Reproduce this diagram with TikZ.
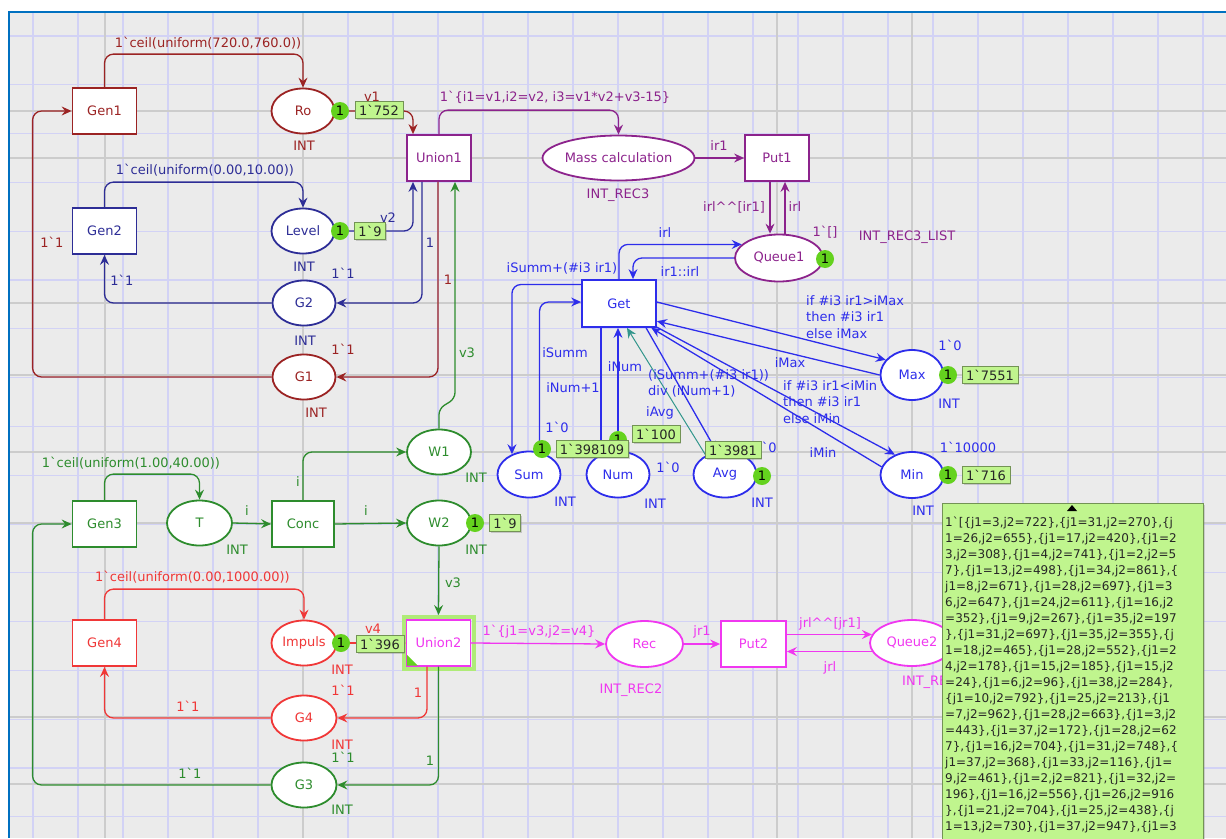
\documentclass[tikz,border=0pt]{standalone}
\usepackage{fontspec}
\newfontfamily\cpn{DejaVu Sans}
\usetikzlibrary{arrows.meta,shapes.geometric,shadows,calc}
\definecolor{cdred}{RGB}{155,35,35}
\definecolor{cdblue}{RGB}{45,45,150}
\definecolor{cpurp}{RGB}{140,35,140}
\definecolor{cblue}{RGB}{45,45,235}
\definecolor{cgreen}{RGB}{45,140,45}
\definecolor{cred}{RGB}{240,55,55}
\definecolor{cmag}{RGB}{240,55,240}
\definecolor{cteal}{RGB}{50,150,140}
\definecolor{tokg}{RGB}{100,210,30}
\definecolor{boxg}{RGB}{192,245,142}
\definecolor{glowg}{RGB}{175,235,120}
\definecolor{bgg}{RGB}{235,235,235}
\definecolor{gridb}{RGB}{210,210,245}
\definecolor{gridg}{RGB}{204,204,204}
\definecolor{framec}{RGB}{0,112,192}
\begin{document}
\begin{tikzpicture}[x=1pt,y=-1pt,
  font={\cpn\fontsize{13}{16.5}\selectfont},
  cpntrans/.style={draw=#1, text=#1, line width=1.8pt, fill=white, minimum width=64pt, minimum height=46pt, inner sep=0pt},
  cpnplace/.style={draw=#1, text=#1, ellipse, line width=1.8pt, fill=white, minimum width=63pt, minimum height=45pt, inner sep=0pt},
  cpnarc/.style={draw=#1, line width=1.3pt, rounded corners=9pt, -{Stealth[length=10pt,width=9pt,inset=3.5pt]}},
  txt/.style={text=#1, inner sep=0pt},
  tok/.style={circle, fill=tokg, text=black, inner sep=0pt, minimum size=18pt},
  mk/.style={fill=boxg, draw=boxg!60!black, line width=0.5pt, text=black!85, inner xsep=4pt, inner ysep=3pt, drop shadow={shadow xshift=1.5pt, shadow yshift=-1.5pt, opacity=0.35}},
]
\useasboundingbox (0,0) rectangle (1226,838);
% background, grid, frame
\fill[white] (0,0) rectangle (1226,838);
\fill[bgg] (9,12) rectangle (1226,838);
\foreach \gx in {33,78,...,1203} \draw[gridb, line width=1.1pt] (\gx,12) -- (\gx,838);
\foreach \k in {0,...,16} \draw[gridb, line width=1.1pt] (9,{36+48.8*\k}) -- (1226,{36+48.8*\k});
\foreach \gx in {105,303,777,912} \draw[gridg, line width=1.1pt] (\gx,12) -- (\gx,838);
\foreach \gy in {111,158,303,375,452,523,717,784} \draw[gridg, line width=1.1pt] (9,\gy) -- (1226,\gy);
\draw[framec, line width=2.4pt] (1226,12) -- (9,12) -- (9,838);

% transitions
\node[cpntrans=cdred] (gen1) at (104.5,111) {Gen1};
\node[cpntrans=cdblue] (gen2) at (104.5,231) {Gen2};
\node[cpntrans=cgreen] (gen3) at (104.5,524) {Gen3};
\node[cpntrans=cred] (gen4) at (104.5,643) {Gen4};
\node[cpntrans=cpurp] (union1) at (439,158) {Union1};
\node[cpntrans=cpurp] (put1) at (777,158) {Put1};
\node[cpntrans=cblue, minimum width=74pt, minimum height=47pt] (get) at (619,303.5) {Get};
\node[cpntrans=cgreen, minimum width=62pt] (conc) at (303,524) {Conc};
\node[draw=glowg, line width=4pt, minimum width=70pt, minimum height=52pt, inner sep=0pt] (u2glow) at (438.5,643) {};
\node[cpntrans=cmag, line width=1.4pt] (union2) at (438.5,643) {Union2};
\fill[tokg] ([shift={(1pt,1pt)}]union2.south west) -- ++(11pt,0pt) -- ++(-11pt,11pt) -- cycle;
\node[cpntrans=cmag, minimum width=65pt] (put2) at (753.5,644) {Put2};

% places
\node[cpnplace=cdred] (ro) at (303,111) {Ro};
\node[cpnplace=cdblue] (level) at (303,231) {Level};
\node[cpnplace=cdblue] (g2) at (304,303) {G2};
\node[cpnplace=cdred] (g1) at (304,377) {G1};
\node[cpnplace=cpurp, minimum width=149pt] (mass) at (618.5,158) {Mass calculation};
\node[cpnplace=cpurp, minimum width=88pt, minimum height=47pt] (queue1) at (779,258) {Queue1};
\node[cpnplace=cblue, minimum height=46pt] (sum) at (529,474.5) {Sum};
\node[cpnplace=cblue, minimum height=46pt] (num) at (618,474.5) {Num};
\node[cpnplace=cblue, minimum height=46pt] (avg) at (725,474.5) {Avg};
\node[cpnplace=cblue, minimum height=50pt] (max) at (912,375) {Max};
\node[cpnplace=cblue, minimum height=46pt] (min) at (912,475) {Min};
\node[cpnplace=cgreen, minimum width=65pt] (t) at (199.5,523) {T};
\node[cpnplace=cgreen, minimum width=64pt] (w1) at (439,452) {W1};
\node[cpnplace=cgreen, minimum width=64pt] (w2) at (439,523) {W2};
\node[cpnplace=cred, minimum width=65pt] (impuls) at (304,643) {Impuls};
\node[cpnplace=cred, minimum width=65pt] (g4) at (304,718) {G4};
\node[cpnplace=cgreen, minimum width=65pt] (g3) at (304,785) {G3};
\node[cpnplace=cmag, minimum width=77pt, minimum height=46pt] (rec) at (644.5,644) {Rec};
\node[cpnplace=cmag, minimum width=84pt, minimum height=46pt] (queue2) at (912,643) {Queue2};

% arcs: top part
\draw[cpnarc=cdred] (gen1.north) -- ++(0,-33) -| (ro.north);
\draw[cpnarc=cdblue] (gen2.north) -- ++(0,-25) -| (level.north);
\draw[cpnarc=cdred] (ro.east) -| ([xshift=-26pt]union1.north);
\draw[cpnarc=cdblue] (level.east) -| ([xshift=-26pt]union1.south);
\draw[cpnarc=cdblue] ([xshift=-17pt]union1.south) |- (g2.east);
\draw[cpnarc=cdred] ([xshift=-1pt]union1.south) |- (g1.east);
\draw[cpnarc=cdblue] (g2.west) -| (gen2.south);
\draw[cpnarc=cdred] (g1.west) -| ([xshift=-39pt]gen1.west) -- (gen1.west);
\draw[cpnarc=cgreen, rounded corners=6pt] (w1.north) -- ++(0,-20) -- ++(16,-10) -- ([xshift=16pt]union1.south);
\draw[cpnarc=cpurp] (union1.north) -- ++(0,-24) -| (mass.north);
\draw[cpnarc=cpurp] (mass.east) -- (put1.west);
\draw[cpnarc=cpurp] ([xshift=-7pt]put1.south) -- ([xshift=-9pt]queue1.north);
\draw[cpnarc=cpurp] ([xshift=6pt]queue1.north) -- ([xshift=8pt]put1.south);
% Get arcs
\draw[cpnarc=cblue] (get.north) |- (queue1.160);
\draw[cpnarc=cblue] (queue1.west) -| ([xshift=14pt]get.north);
\draw[cpnarc=cblue] ([yshift=19pt]get.west) -| (sum.130);
\draw[cpnarc=cblue] (sum.65) |- ([yshift=1.5pt]get.west);
\draw[cpnarc=cblue] (num.130 |- get.south) -- (num.130);
\draw[cpnarc=cblue] (num.north) -- (num.north |- get.south);
\draw[cpnarc=cteal, line width=1pt] (avg.135) -- ([xshift=8pt]get.south);
\draw[cpnarc=cblue] (get.-42) -- (avg.110);
\draw[cpnarc=cblue] ([yshift=1.5pt]get.east) -- (max.150);
\draw[cpnarc=cblue] (max.west) -- (get.-25);
\draw[cpnarc=cblue] (get.-32) -- (min.130);
\draw[cpnarc=cblue] (min.165) -- (get.-37);
% arcs: bottom part
\draw[cpnarc=cgreen] (gen3.north) -- ++(0,-26) -| (t.north);
\draw[cpnarc=cgreen] (t.east) -- (conc.west);
\draw[cpnarc=cgreen] (conc.north) |- (w1.west);
\draw[cpnarc=cgreen] (conc.east) -- (w2.west);
\draw[cpnarc=cgreen] (w2.south) -- (u2glow.north);
\draw[cpnarc=cred] (gen4.north) -- ++(0,-30) -| (impuls.north);
\draw[cpnarc=cred] (impuls.east) -- (union2.west);
\draw[cpnarc=cred] ([xshift=-11.5pt]union2.south) |- (g4.east);
\draw[cpnarc=cgreen] (union2.south) |- (g3.east);
\draw[cpnarc=cred] (g4.west) -| (gen4.south);
\draw[cpnarc=cgreen] (g3.west) -| ([xshift=-39pt]gen3.west) -- (gen3.west);
\draw[cpnarc=cmag] (union2.east) -- (rec.west);
\draw[cpnarc=cmag] (rec.east) -- (put2.west);
\draw[cpnarc=cmag] (queue2.168 -| put2.east) -- (queue2.168);
\draw[cpnarc=cmag] (queue2.192) -- (queue2.192 -| put2.east);

% labels top
\node[txt=cdred] (l1) at (208,43) {1`ceil(uniform(720.0,760.0))};
\node[txt=cdblue] (l2) at (205,170) {1`ceil(uniform(0.00,10.00))};
\node[txt=cdred] (l3) at (372,97) {v1};
\node[txt=cdblue] (l4) at (388,218) {v2};
\node[txt=cdred] (l5) at (304,146) {INT};
\node[txt=cdblue] (l6) at (304,267) {INT};
\node[txt=cdblue] (l7) at (343,273) {1`1};
\node[txt=cdblue] (l8) at (430,243) {1};
\node[txt=cdblue] (l9) at (122,280) {1`1};
\node[txt=cdblue] (l10) at (305,341) {INT};
\node[txt=cdred] (l11) at (343,349) {1`1};
\node[txt=cdred] (l12) at (448,280) {1};
\node[txt=cdred] (l13) at (52,242) {1`1};
\node[txt=cdred] (l14) at (316,413) {INT};
\node[txt=cgreen] (l15) at (467,353) {v3};
\node[txt=cpurp] (l16) at (555,97) {1`\{i1=v1,i2=v2, i3=v1*v2+v3-15\}};
\node[txt=cpurp] (l17) at (618,195) {INT\_REC3};
\node[txt=cpurp] (l18) at (719,146) {ir1};
\node[txt=cpurp] (l19) at (734,207) {irl\textasciicircum\textasciicircum[ir1]};
\node[txt=cpurp] (l20) at (795,207) {irl};
\node[txt=cpurp] (l21) at (825,232) {1`[]};
\node[txt=cpurp] (l22) at (907,237) {INT\_REC3\_LIST};
\node[txt=cblue] (l23) at (665,233) {irl};
\node[txt=cblue] (l24) at (680,272) {ir1::irl};
\node[txt=cblue] (l25) at (562,268) {iSumm+(\#i3 ir1)};
\node[txt=cblue] (l26) at (565,353) {iSumm};
\node[txt=cblue] (l27) at (573,388) {iNum+1};
\node[txt=cblue] (l28) at (625,367) {iNum};
\node[txt=cblue] (l29) at (660,413) {iAvg};
\node[txt=cblue, anchor=west, align=left] (l30) at (648,383.5) {(iSumm+(\#i3 ir1))\\div (iNum+1)};
\node[txt=cblue, anchor=west, align=left] (l31) at (806,317) {if \#i3 ir1>iMax\\then \#i3 ir1\\else iMax};
\node[txt=cblue] (l32) at (790,363) {iMax};
\node[txt=cblue, anchor=west, align=left] (l33) at (783,402) {if \#i3 ir1<iMin\\then \#i3 ir1\\else iMin};
\node[txt=cblue] (l34) at (823,453) {iMin};
\node[txt=cblue] (l35) at (557,427) {1`0};
\node[txt=cblue] (l36) at (668,467) {1`0};
\node[txt=cblue] (l37) at (765,447) {1`0};
\node[txt=cblue] (l38) at (950,345) {1`0};
\node[txt=cblue] (l39) at (949,404) {INT};
\node[txt=cblue] (l40) at (968,447) {1`10000};
\node[txt=cblue] (l41) at (923,511) {INT};
\node[txt=cblue] (l42) at (565,502) {INT};
\node[txt=cblue] (l43) at (655,504) {INT};
\node[txt=cblue] (l44) at (762,503) {INT};
% labels bottom
\node[txt=cgreen] (l45) at (131,463) {1`ceil(uniform(1.00,40.00))};
\node[txt=cgreen] (l46) at (237,550) {INT};
\node[txt=cgreen] (l47) at (247,511) {i};
\node[txt=cgreen] (l48) at (298,482) {i};
\node[txt=cgreen] (l49) at (366,511) {i};
\node[txt=cgreen] (l50) at (476,478) {INT};
\node[txt=cgreen] (l51) at (476,550) {INT};
\node[txt=cgreen] (l52) at (453,583) {v3};
\node[txt=cred] (l53) at (192.5,577) {1`ceil(uniform(0.00,1000.00))};
\node[txt=cred] (l54) at (373,629) {v4};
\node[txt=cred] (l55) at (342,670) {INT};
\node[txt=cred] (l56) at (343,690) {1`1};
\node[txt=cred] (l57) at (418,693) {1};
\node[txt=cred] (l58) at (188,706) {1`1};
\node[txt=cred] (l59) at (342,745) {INT};
\node[txt=cgreen] (l60) at (343,757) {1`1};
\node[txt=cgreen] (l61) at (430,761) {1};
\node[txt=cgreen] (l62) at (190,773) {1`1};
\node[txt=cgreen] (l63) at (342,810) {INT};
\node[txt=cmag] (l64) at (539,632) {1`\{j1=v3,j2=v4\}};
\node[txt=cmag] (l65) at (702,632) {jr1};
\node[txt=cmag] (l66) at (631,690) {INT\_REC2};
\node[txt=cmag] (l67) at (830,624) {jrl\textasciicircum\textasciicircum[jr1]};
\node[txt=cmag] (l68) at (830,668) {jrl};
\begin{scope}
\clip (9,12) rectangle (942,838);
\node[txt=cmag, anchor=west] (l69) at (902,682) {INT\_REC2\_LIST};
\end{scope}

% tokens and markings
\node[tok] (tro) at (340,111) {1};
\node[mk] (mro) at (379,110) {1`752};
\node[tok] (tlevel) at (340,231) {1};
\node[mk] (mlevel) at (370,231) {1`9};
\node[tok] (tq1) at (825,259) {1};
\node[tok] (tnum) at (618,440) {1};
\node[tok] (tsum) at (542,449) {1};
\node[mk] (msum) at (592,449) {1`398109};
\node[mk] (mnum) at (656,434) {1`100};
\node[mk] (mavg) at (733,450) {1`3981};
\node[tok] (tavg) at (762,476) {1};
\node[tok] (tmax) at (948,375) {1};
\node[mk] (mmax) at (990,375) {1`7551};
\node[tok] (tmin) at (948,475) {1};
\node[mk] (mmin) at (986,475) {1`716};
\node[tok] (tw2) at (475,523) {1};
\node[mk] (mw2) at (505,523) {1`9};
\node[tok] (timp) at (341,643) {1};
\node[mk] (mimp) at (380,644) {1`396};

% big marking box of Queue2
\node[fill=boxg, draw=boxg!60!black, line width=0.6pt, minimum width=261pt, minimum height=350pt, anchor=north west, inner sep=0pt,
  drop shadow={shadow xshift=1.5pt, shadow yshift=-1.5pt, opacity=0.3}] (bigbox) at (942,503) {};
\fill[black] (1067,511) -- (1077,511) -- (1072,505) -- cycle;
\foreach \ln [count=\k from 0] in {
{1`[\{j1=3,j2=722\},\{j1=31,j2=270\},\{j},
{1=26,j2=655\},\{j1=17,j2=420\},\{j1=2},
{3,j2=308\},\{j1=4,j2=741\},\{j1=2,j2=5},
{7\},\{j1=13,j2=498\},\{j1=34,j2=861\},\{},
{j1=8,j2=671\},\{j1=28,j2=697\},\{j1=3},
{6,j2=647\},\{j1=24,j2=611\},\{j1=16,j2},
{=352\},\{j1=9,j2=267\},\{j1=35,j2=197},
{\},\{j1=31,j2=697\},\{j1=35,j2=355\},\{j},
{1=18,j2=465\},\{j1=28,j2=552\},\{j1=2},
{4,j2=178\},\{j1=15,j2=185\},\{j1=15,j2},
{=24\},\{j1=6,j2=96\},\{j1=38,j2=284\},},
{\{j1=10,j2=792\},\{j1=25,j2=213\},\{j1},
{=7,j2=962\},\{j1=28,j2=663\},\{j1=3,j2},
{=443\},\{j1=37,j2=172\},\{j1=28,j2=62},
{7\},\{j1=16,j2=704\},\{j1=31,j2=748\},\{},
{j1=37,j2=368\},\{j1=33,j2=116\},\{j1=},
{9,j2=461\},\{j1=2,j2=821\},\{j1=32,j2=},
{196\},\{j1=16,j2=556\},\{j1=26,j2=916},
{\},\{j1=21,j2=704\},\{j1=25,j2=438\},\{j},
{1=13,j2=730\},\{j1=37,j2=947\},\{j1=3}}
  \node[anchor=west, inner sep=0pt, text=black!85, font={\cpn\fontsize{12}{16}\selectfont}] (bl\k) at (945,{523+16*\k}) {\ln};
\end{tikzpicture}
\end{document}
